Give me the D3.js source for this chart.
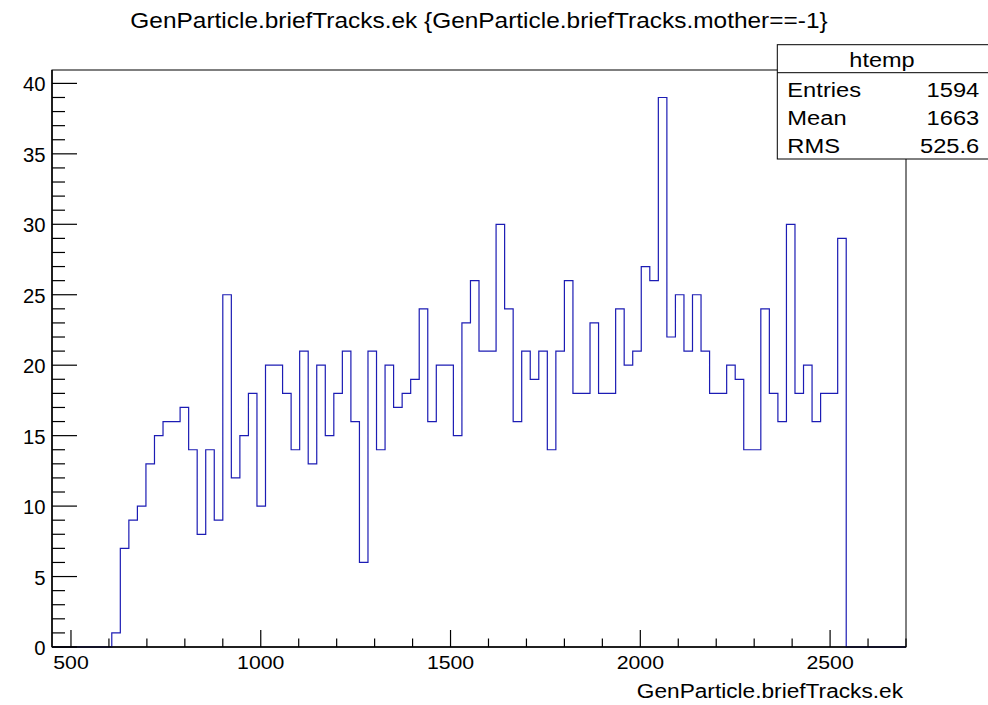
<!DOCTYPE html>
<html>
<head>
  <meta charset="UTF-8">
  <style>
    body { margin: 0; background: #fff; }
    svg text { font-family: "Liberation Sans", Arial, sans-serif; fill: #000; }
  </style>
</head>
<body>
<svg></svg>
<script src="https://d3js.org/d3.v7.min.js"></script>
<script>

let width = 988, height = 705;

// histogram binning (ROOT htemp, 100 bins)
const xMin = 450, xMax = 2700, nBins = 100;
const firstBin = 7;
const binCounts = [1,7,9,10,13,15,16,16,17,14,
  8,14,9,25,12,15,18,10,20,20,
  18,14,21,13,20,15,18,21,16,6,
  21,14,20,17,18,19,24,16,20,20,
  15,23,26,21,21,30,24,16,21,19,
  21,14,21,26,18,18,23,18,18,24,
  20,21,27,26,39,22,25,21,25,21,
  18,18,20,19,14,14,24,18,16,30,
  18,20,16,18,18,29];

const xTicks = [500, 1000, 1500, 2000, 2500];
const yTicks = [0, 5, 10, 15, 20, 25, 30, 35, 40];

const statsLabels = ["Entries", "Mean", "RMS"];
const statsValues = ["1594", "1663", "525.6"];

const title = "GenParticle.briefTracks.ek {GenParticle.briefTracks.mother==-1}";
const xTitle = "GenParticle.briefTracks.ek";

let svg = d3.select("svg")
    .attr("width", width)
    .attr("height", height);

const frame = {left: 52, right: 906, top: 70, bottom: 647};

let x = d3.scaleLinear().domain([xMin, xMax]).range([frame.left, frame.right]);
let y = d3.scaleLinear().domain([0, 39 * 1.05]).range([frame.bottom, frame.top]);

const binW = (xMax - xMin) / nBins;
let counts = d3.range(nBins).map(i => {
    let j = i - firstBin;
    return (j >= 0 && j < binCounts.length) ? binCounts[j] : 0;
});

// text stretched horizontally, the root fonts are wider than liberation
function label(g, px, py, sx, anchor, size, str) {
    return g.append("text")
        .attr("transform", `translate(${px},${py}) scale(${sx},1)`)
        .attr("text-anchor", anchor)
        .attr("font-size", size)
        .text(str);
}

// frame
svg.append("rect")
    .attr("x", frame.left).attr("y", frame.top)
    .attr("width", frame.right - frame.left).attr("height", frame.bottom - frame.top)
    .attr("fill", "none").attr("stroke", "#000").attr("stroke-width", 1);

// histogram outline
let pts = [];
counts.forEach((c, i) => {
    pts.push([xMin + i * binW, c]);
    pts.push([xMin + (i + 1) * binW, c]);
});
svg.append("path")
    .attr("d", d3.line().x(d => x(d[0])).y(d => y(d[1]))(pts))
    .attr("fill", "none")
    .attr("stroke", "#1c1cb4")
    .attr("stroke-width", 1.2);

// x axis
let gx = svg.append("g");
d3.range(500, 2701, 100).forEach(v => {
    let major = v % 500 === 0;
    gx.append("line")
        .attr("x1", x(v)).attr("x2", x(v))
        .attr("y1", frame.bottom).attr("y2", frame.bottom - (major ? 17 : 8.5))
        .attr("stroke", "#000").attr("stroke-width", 1.2);
});
xTicks.forEach(d => label(gx, x(d), 669, 1.12, "middle", 19, d));
gx.append("line")
    .attr("x1", frame.left).attr("x2", frame.right)
    .attr("y1", frame.bottom).attr("y2", frame.bottom)
    .attr("stroke", "#000").attr("stroke-width", 1.5);

// y axis
let gy = svg.append("g");
d3.range(0, 41, 1).forEach(v => {
    let major = v % 5 === 0;
    gy.append("line")
        .attr("x1", frame.left).attr("x2", frame.left + (major ? 25 : 13))
        .attr("y1", y(v)).attr("y2", y(v))
        .attr("stroke", "#000").attr("stroke-width", 1.2);
});
yTicks.forEach(d => label(gy, 45.5, y(d) + 8, 1.04, "end", 19.5, d));
gy.append("line")
    .attr("x1", frame.left).attr("x2", frame.left)
    .attr("y1", frame.top).attr("y2", frame.bottom)
    .attr("stroke", "#000").attr("stroke-width", 1.5);

// titles
label(svg, 479, 28, 1.137, "middle", 21.5, title);
label(svg, 903, 697.5, 1.08, "end", 21, xTitle);

// stats box
const box = {x: 777.3, y: 44.7, w: 212, h: 114.3, head: 28};
let gs = svg.append("g");
gs.append("rect")
    .attr("x", box.x).attr("y", box.y).attr("width", box.w).attr("height", box.h)
    .attr("fill", "#fff").attr("stroke", "#000").attr("stroke-width", 1);
gs.append("line")
    .attr("x1", box.x).attr("x2", box.x + box.w)
    .attr("y1", box.y + box.head).attr("y2", box.y + box.head)
    .attr("stroke", "#000").attr("stroke-width", 1);
label(gs, 882, 66.7, 1.2, "middle", 19.6, "htemp");
statsLabels.forEach((s, i) => {
    let by = 96.7 + i * 28.3;
    label(gs, 787.3, by, 1.21, "start", 19.6, s);
    label(gs, 979.3, by, 1.21, "end", 19.6, statsValues[i]);
});

</script>
</body>
</html>
